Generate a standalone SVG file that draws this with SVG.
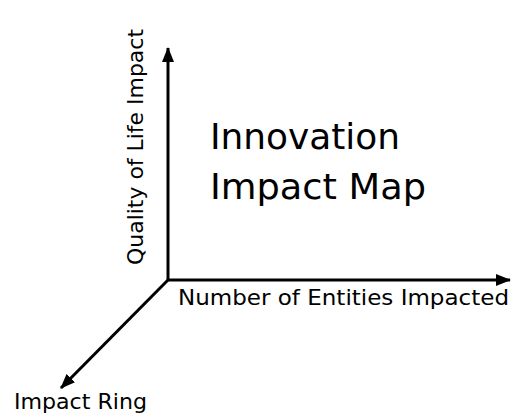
<svg xmlns="http://www.w3.org/2000/svg" width="511" height="417" viewBox="0 0 511 417">
<defs>
<marker id="arr" viewBox="0 0 15 12" refX="14" refY="6" markerWidth="15" markerHeight="12" markerUnits="userSpaceOnUse" orient="auto">
<path d="M0,0 L15,6 L0,12 Z" fill="#000"/>
</marker>
</defs>
<style>
.ax{stroke:#000;stroke-width:3;fill:none}
.t{font-family:"DejaVu Sans","Liberation Sans",sans-serif;fill:#000}
.lbl{font-size:21.5px}
.title{font-size:36px}
</style>
<rect width="511" height="417" fill="#fff"/>
<g id="connectors">
<line class="ax" x1="168" y1="280" x2="168" y2="48" marker-end="url(#arr)"/>
<line class="ax" x1="167" y1="280" x2="510" y2="280" marker-end="url(#arr)"/>
<line class="ax" x1="168" y1="280" x2="61" y2="388" marker-end="url(#arr)"/>
</g>
<g id="title">
<text class="t title" x="210" y="149" textLength="190" lengthAdjust="spacingAndGlyphs">Innovation</text>
<text class="t title" x="210" y="199" textLength="216" lengthAdjust="spacingAndGlyphs">Impact Map</text>
</g>
<g id="y-label">
<text class="t lbl" transform="translate(143,265) rotate(-90)" textLength="236" lengthAdjust="spacingAndGlyphs">Quality of Life Impact</text>
</g>
<g id="x-label">
<text class="t lbl" x="178" y="305" textLength="331" lengthAdjust="spacingAndGlyphs">Number of Entities Impacted</text>
</g>
<g id="z-label">
<text class="t lbl" x="14" y="409" font-size="23" textLength="133" lengthAdjust="spacingAndGlyphs">Impact Ring</text>
</g>
</svg>
